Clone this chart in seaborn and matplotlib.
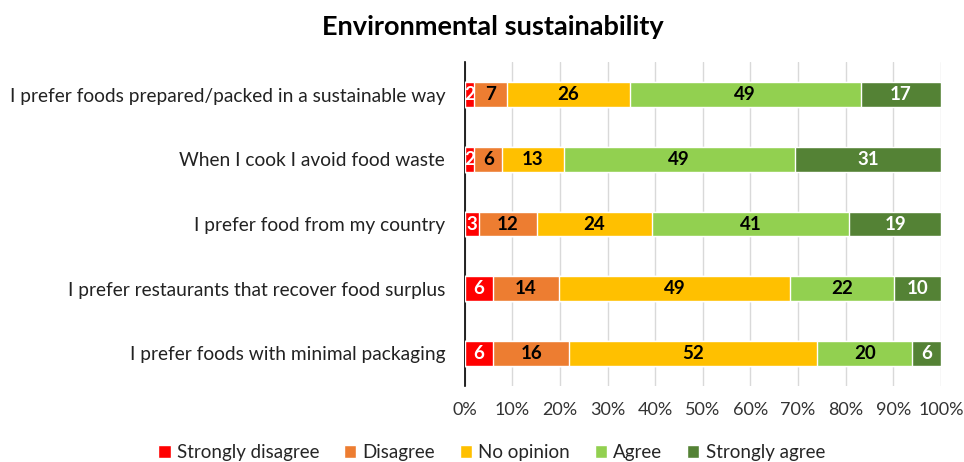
import pandas as pd
import numpy as np
import matplotlib
matplotlib.use("Agg")
import matplotlib.pyplot as plt
import seaborn as sns
from matplotlib.patches import Patch
from matplotlib.ticker import PercentFormatter

# Survey answers (counts / percentages as printed on the bars)
statements = [
    "I prefer foods prepared/packed in a sustainable way",
    "When I cook I avoid food waste",
    "I prefer food from my country",
    "I prefer restaurants that recover food surplus",
    "I prefer foods with minimal packaging",
]
levels = ["Strongly disagree", "Disagree", "No opinion", "Agree", "Strongly agree"]
strongly_disagree = [2, 2, 3, 6, 6]
disagree = [7, 6, 12, 14, 16]
no_opinion = [26, 13, 24, 49, 52]
agree = [49, 49, 41, 22, 20]
strongly_agree = [17, 31, 19, 10, 6]

colors = ["#FF0000", "#ED7D31", "#FFC000", "#92D050", "#548235"]
text_colors = ["white", "black", "black", "black", "white"]

df = pd.DataFrame(
    {
        "Statement": statements,
        "Strongly disagree": strongly_disagree,
        "Disagree": disagree,
        "No opinion": no_opinion,
        "Agree": agree,
        "Strongly agree": strongly_agree,
    }
).set_index("Statement")

# 100% stacked: share of each answer per statement
share = df.div(df.sum(axis=1), axis=0) * 100
cum = share.cumsum(axis=1)

sns.set_theme(style="white")
plt.rcParams["font.family"] = ["Lato", "DejaVu Sans"]

fig, ax = plt.subplots(figsize=(9.64, 4.62), dpi=100)
fig.subplots_adjust(left=0.482, right=0.976, top=0.865, bottom=0.165)

# draw from the full stack down so each layer covers the previous one
for lvl, col in reversed(list(zip(levels, colors))):
    sns.barplot(x=cum[lvl].values, y=statements, orient="h", color=col,
                width=0.38, saturation=1, ax=ax, zorder=3)

# segment labels
for lvl, tc in zip(levels, text_colors):
    mids = cum[lvl] - share[lvl] / 2
    for i, stmt in enumerate(statements):
        ax.text(mids[stmt], i, str(df.loc[stmt, lvl]), ha="center", va="center",
                color=tc, fontsize=13.5, fontweight="bold", zorder=4)

ax.set_xlim(0, 100)
ax.set_xticks(np.arange(0, 101, 10))
ax.xaxis.set_major_formatter(PercentFormatter(decimals=0))
ax.grid(axis="x", color="#D9D9D9", linewidth=1, zorder=0)
ax.set_axisbelow(True)
for s in ["top", "right", "bottom"]:
    ax.spines[s].set_visible(False)
ax.spines["left"].set_color("black")
ax.spines["left"].set_linewidth(1.2)
ax.set_ylim(4.5, -0.5)
ax.tick_params(axis="y", length=0, labelsize=13.8, colors="#222222", pad=14)
ax.tick_params(axis="x", length=0, labelsize=13, colors="#333333", pad=12)
ax.set_xlabel("")
ax.set_ylabel("")

fig.text(0.511, 0.942, "Environmental sustainability", fontsize=19.5, fontweight="bold",
         ha="center", va="center", color="black")

handles = [Patch(facecolor=c, label=l) for l, c in zip(levels, colors)]
fig.legend(handles=handles, loc="lower center", bbox_to_anchor=(0.51, -0.035), ncol=5,
           frameon=False, fontsize=13.5, handlelength=0.65, handleheight=0.65,
           handletextpad=0.35, columnspacing=1.3)

fig.savefig("out.png", dpi=100)
